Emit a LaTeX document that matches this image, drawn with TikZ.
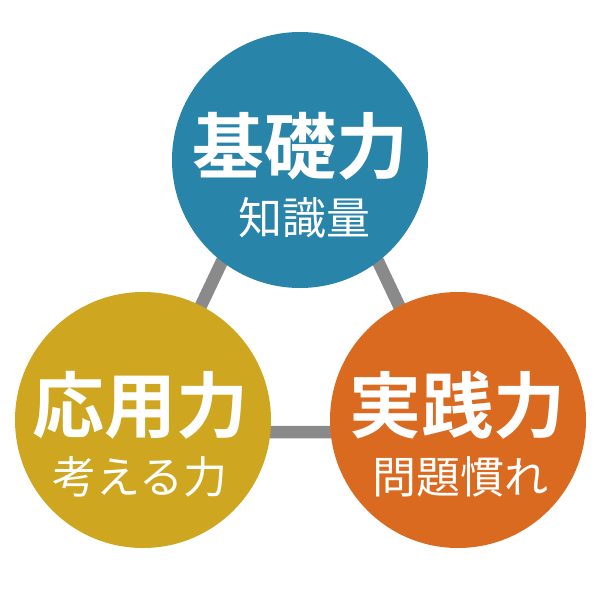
\documentclass[tikz,border=0pt]{standalone}
\usepackage{fontspec}
\newfontfamily\titlef{Noto Sans CJK JP Bold}
\newfontfamily\subf{Noto Sans CJK JP}
\definecolor{cblue}{RGB}{41,132,170}
\definecolor{cgold}{RGB}{207,166,31}
\definecolor{corange}{RGB}{217,106,32}
\definecolor{cgray}{RGB}{138,138,138}
\tikzset{
  ball/.style={circle,minimum size=256pt,inner sep=0pt,draw=none},
  ttl/.style={text=white,font=\titlef\fontsize{72}{72}\selectfont,inner sep=0pt},
  sub/.style={text=white,font=\subf\fontsize{44}{44}\selectfont,inner sep=0pt},
  link/.style={draw=cgray,line width=12.5pt}
}
\begin{document}
\begin{tikzpicture}[x=1pt,y=-1pt]
\useasboundingbox[fill=white] (0,0) rectangle (600,600);
\coordinate (ta) at (300,97);
\coordinate (tb) at (141,432);
\coordinate (tc) at (459,432);
\draw[link] (ta) -- (tb) -- (tc) -- cycle;
\node[ball,fill=cblue] (top) at (300,160) {};
\node[ball,fill=cgold] (left) at (143,420) {};
\node[ball,fill=corange] (right) at (458,420) {};
\node[ttl] (t1) at (300,146) {基礎力};
\node[sub] (s1) at (304,218) {知識量};
\node[ttl] (t2) at (140,405) {応用力};
\node[sub] (s2) at (140,477) {考える力};
\node[ttl] (t3) at (457,405) {実践力};
\node[sub] (s3) at (460,477) {問題慣れ};
\end{tikzpicture}
\end{document}
